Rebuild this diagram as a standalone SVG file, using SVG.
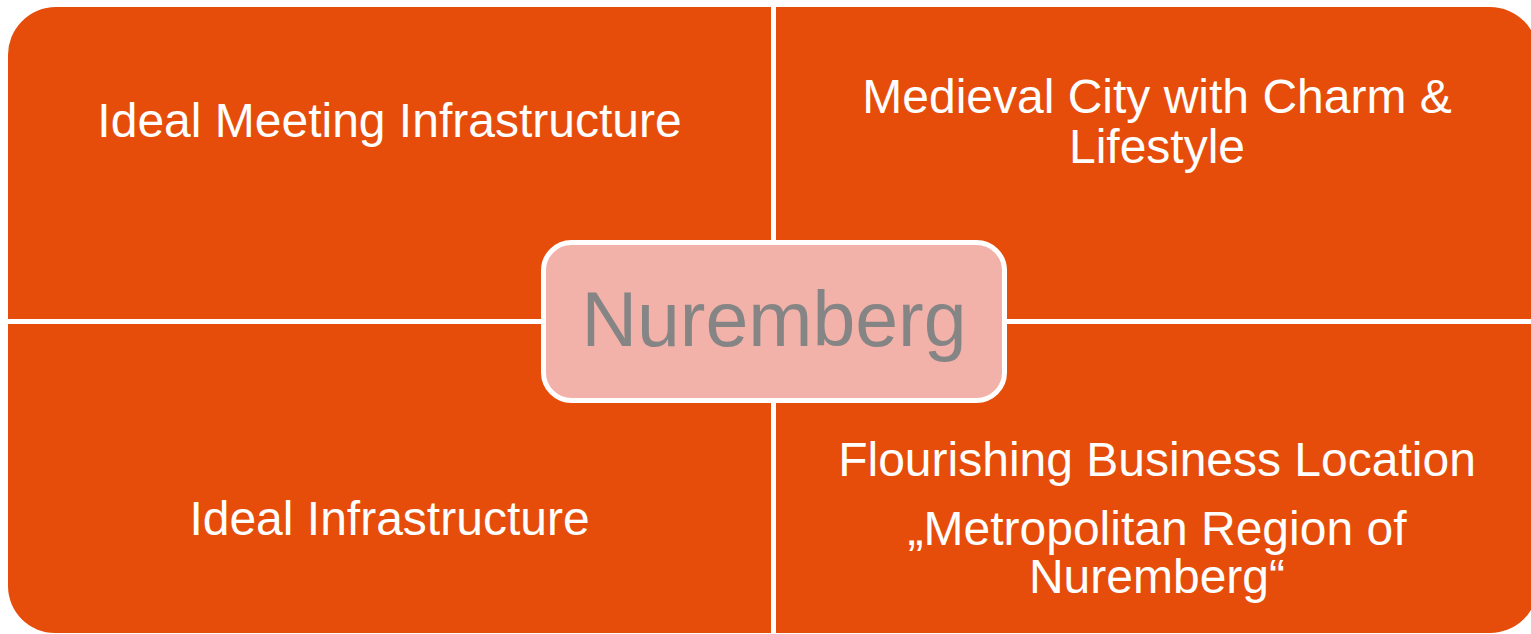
<svg xmlns="http://www.w3.org/2000/svg" width="1531" height="634" viewBox="0 0 1531 634">
<style>
.q{fill:#E64D0A}
.t{font-family:"Liberation Sans",Arial,sans-serif;font-size:48px;fill:#FFFFFF;text-anchor:middle}
.c{font-family:"Liberation Sans",Arial,sans-serif;font-size:77px;fill:#858585;text-anchor:middle}
</style>
<rect width="1531" height="634" fill="#FFFFFF"/>
<g id="node-top-left">
<path class="q" d="M8,56 A48,48 0 0 1 56,7 L771,7 L771,319 L8,319 Z"/>
<text class="t" x="389.5" y="137">Ideal Meeting Infrastructure</text>
</g>
<g id="node-top-right">
<path class="q" d="M776,7 L1490,7 A48,48 0 0 1 1538,55 L1538,319 L776,319 Z"/>
<text class="t" x="1157" y="113">Medieval City with Charm &amp;</text>
<text class="t" x="1157" y="163">Lifestyle</text>
</g>
<g id="node-bottom-left">
<path class="q" d="M8,324 L771,324 L771,633 L55,633 A47,47 0 0 1 8,586 Z"/>
<text class="t" x="389.5" y="535">Ideal Infrastructure</text>
</g>
<g id="node-bottom-right">
<path class="q" d="M776,324 L1538,324 L1538,585 A48,48 0 0 1 1490,633 L776,633 Z"/>
<text class="t" x="1157" y="476">Flourishing Business Location</text>
<text class="t" x="1157" y="545">„Metropolitan Region of</text>
<text class="t" x="1157" y="593">Nuremberg“</text>
</g>
<g id="connectors"></g>
<g id="node-center">
<rect x="543.5" y="242.5" width="461" height="158" rx="28" ry="28" fill="#F2B2A9" stroke="#FFFFFF" stroke-width="5"/>
<text class="c" x="774" y="346">Nuremberg</text>
</g>
</svg>
